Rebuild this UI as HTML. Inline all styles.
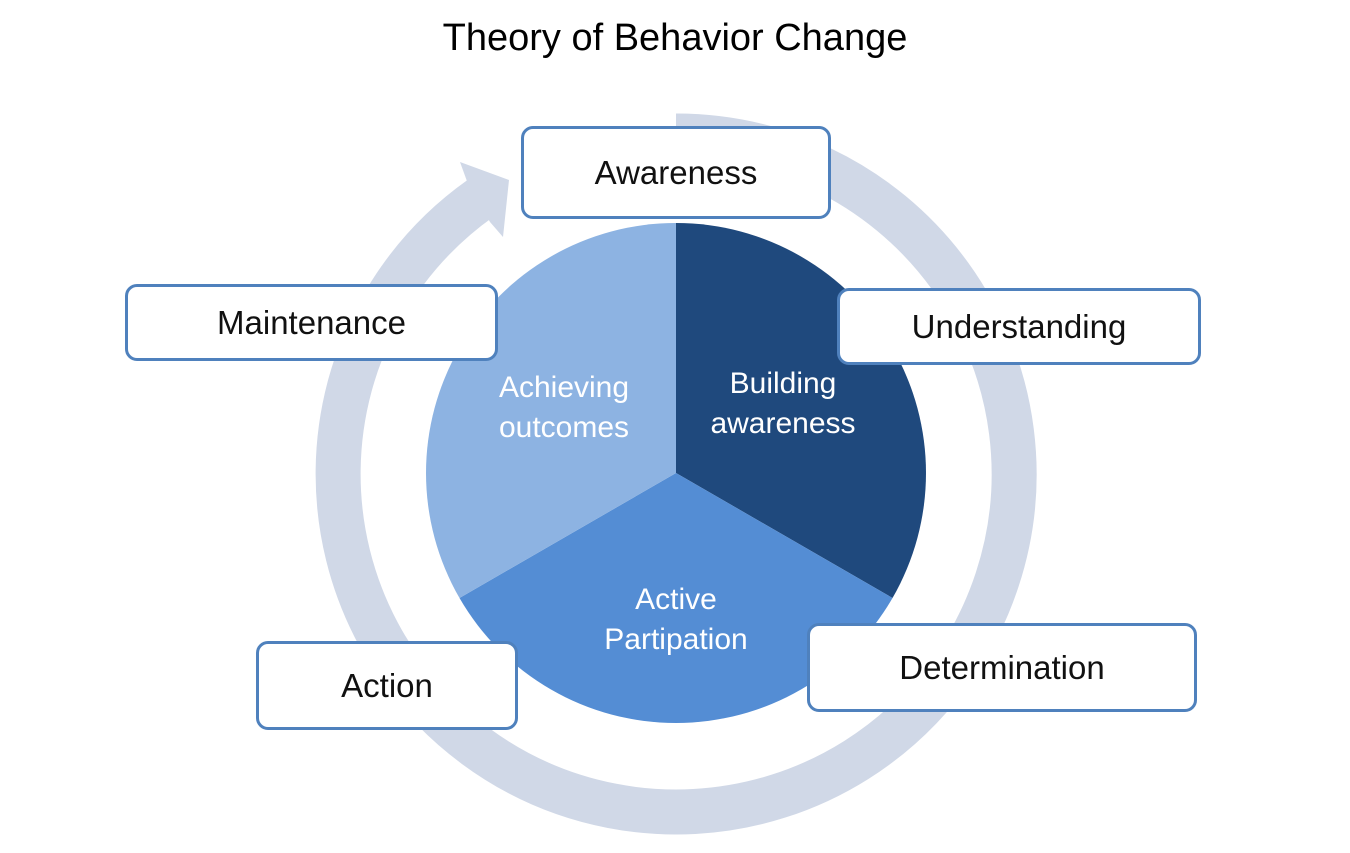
<!DOCTYPE html>
<html><head><meta charset="utf-8"><style>
body{margin:0;background:#fff;width:1350px;height:853px;overflow:hidden;font-family:"Liberation Sans",sans-serif}
.box{position:absolute;background:#fff;border:3px solid #4f81bd;border-radius:12px;box-sizing:border-box;display:flex;align-items:center;justify-content:center;font-size:33px;color:#111}
</style></head><body>
<svg width="1350" height="853" style="position:absolute;left:0;top:0">
<text x="675" y="50" text-anchor="middle" font-family="Liberation Sans, sans-serif" font-size="38" fill="#000">Theory of Behavior Change</text>
<path d="M 676 136 A 338 338 0 1 1 481 198" fill="none" stroke="#d0d8e7" stroke-width="45"/>
<polygon points="460,162 509,180 503,237 490,222 468,184" fill="#d0d8e7"/>
<path d="M676 473 L676 223 A250 250 0 0 1 892.5 598 Z" fill="#1f497d"/>
<path d="M676 473 L892.5 598 A250 250 0 0 1 459.5 598 Z" fill="#548dd4"/>
<path d="M676 473 L459.5 598 A250 250 0 0 1 676 223 Z" fill="#8db3e2"/>
<g font-family="Liberation Sans, sans-serif" font-size="30" fill="#fff" text-anchor="middle">
<text x="783" y="393">Building</text><text x="783" y="433">awareness</text>
<text x="564" y="397">Achieving</text><text x="564" y="437">outcomes</text>
<text x="676" y="609">Active</text><text x="676" y="649">Partipation</text>
</g>
</svg>
<div class="box" style="left:521px;top:126px;width:310px;height:93px">Awareness</div>
<div class="box" style="left:837px;top:288px;width:364px;height:77px">Understanding</div>
<div class="box" style="left:125px;top:284px;width:373px;height:77px">Maintenance</div>
<div class="box" style="left:807px;top:623px;width:390px;height:89px">Determination</div>
<div class="box" style="left:256px;top:641px;width:262px;height:89px">Action</div>
</body></html>
